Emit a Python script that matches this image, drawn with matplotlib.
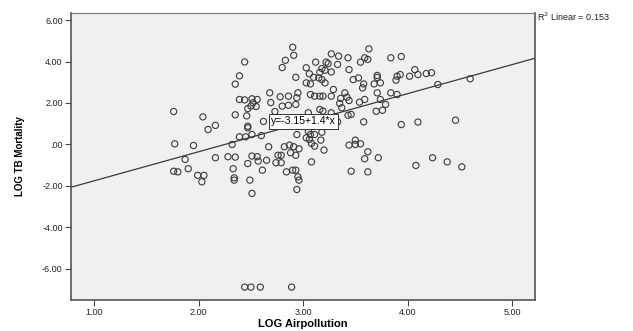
import numpy as np
import matplotlib
matplotlib.use("Agg")
import matplotlib.pyplot as plt

plt.rcParams["font.family"] = ["Liberation Sans", "DejaVu Sans"]

# LOG Airpollution values (x)
airpollution = [
    1.76, 2.04, 2.09, 2.16, 1.77, 1.95, 1.87, 1.76, 1.80, 1.90,
    1.99, 2.05, 2.03, 2.16, 2.28, 2.35, 2.32, 2.33, 2.34, 2.34,
    2.44, 2.39, 2.35, 2.39, 2.44, 2.51, 2.52, 2.50, 2.47, 2.35,
    2.46, 2.47, 2.47, 2.39, 2.45, 2.51, 2.51, 2.47, 2.49, 2.51,
    2.44, 2.50, 2.59, 2.89,
    2.90, 2.91, 2.83, 2.80, 2.93, 3.03, 3.06, 3.10, 3.12, 3.16,
    3.18, 3.21, 3.22, 3.24, 3.33, 3.27, 3.34, 3.15, 3.18, 3.21,
    3.03, 3.07, 3.27, 3.07, 3.11, 3.16, 3.19, 3.29, 3.27, 3.36,
    3.35, 3.37, 2.68, 2.78, 2.86, 2.94, 2.95, 2.69, 2.73, 2.80,
    2.86, 2.93, 2.56, 2.55, 3.05, 3.16, 3.19, 3.27, 3.33, 2.62,
    2.60, 2.94, 3.05, 3.07, 3.11, 3.18, 3.03, 3.06, 3.17, 3.08,
    3.11, 3.20, 2.67, 2.82, 2.87, 2.91, 2.96, 2.88, 2.93, 2.76,
    2.79, 2.74, 2.79, 2.56, 2.57, 2.65, 2.61, 2.84, 2.90, 2.93,
    2.95, 2.96, 3.08, 2.94,
    3.63, 3.43, 3.55, 3.59, 3.62, 3.84, 3.94, 3.44, 3.48, 3.53,
    3.58, 3.57, 3.71, 3.71, 3.68, 3.74, 3.90, 3.93, 3.89, 4.02,
    4.07, 4.10, 4.18, 4.23, 4.29, 4.60, 3.40, 3.42, 3.44, 3.59,
    3.54, 3.71, 3.84, 3.90, 3.74, 3.79, 3.70, 3.76, 3.43, 3.46,
    3.58, 3.94, 4.10, 4.46, 3.50, 3.44, 3.50, 3.55, 3.62, 3.59,
    3.72, 3.46, 3.62, 4.08, 4.24, 4.38, 4.52,
]

# LOG TB Mortality values (y)
tb_mortality = [
    1.59, 1.33, 0.72, 0.92, 0.03, -0.05, -0.72, -1.29, -1.32, -1.17,
    -1.49, -1.49, -1.80, -0.64, -0.59, -0.61, 0.00, -1.17, -1.61, -1.72,
    3.98, 3.31, 2.91, 2.17, 2.15, 2.20, 2.01, 1.85, 1.73, 1.43,
    1.38, 0.88, 0.80, 0.37, 0.37, 0.48, -0.56, -0.92, -1.72, -2.36,
    -6.88, -6.88, -6.88, -6.88,
    4.69, 4.30, 4.06, 3.71, 3.24, 3.70, 3.41, 3.24, 3.97, 3.48,
    3.66, 3.58, 3.97, 3.90, 3.86, 4.37, 4.26, 3.21, 3.13, 2.97,
    2.97, 2.92, 3.50, 2.41, 2.33, 2.33, 2.33, 2.65, 2.33, 2.22,
    1.98, 1.77, 2.49, 2.30, 2.33, 2.25, 2.49, 2.02, 1.59, 1.85,
    1.89, 1.93, 2.17, 1.83, 1.53, 1.69, 1.61, 1.53, 1.09, 1.11,
    0.43, 0.48, 0.64, 0.48, 0.48, 0.59, 0.32, 0.24, 0.21, 0.05,
    -0.08, -0.27, -0.11, -0.11, -0.03, -0.11, -0.21, -0.40, -0.52, -0.52,
    -0.52, -0.88, -0.88, -0.59, -0.80, -0.76, -1.24, -1.32, -1.24, -1.24,
    -1.56, -1.72, -0.84, -2.17,
    4.61, 4.18, 3.97, 4.18, 4.10, 4.18, 4.24, 3.61, 3.13, 3.21,
    2.92, 2.73, 3.33, 3.23, 2.92, 2.97, 3.29, 3.37, 3.10, 3.29,
    3.61, 3.37, 3.42, 3.46, 2.89, 3.17, 2.49, 2.28, 2.12, 2.17,
    2.04, 2.49, 2.49, 2.41, 2.17, 1.93, 1.60, 1.65, 1.41, 1.45,
    1.09, 0.96, 1.08, 1.17, 0.21, -0.03, 0.00, 0.03, -0.35, -0.69,
    -0.64, -1.29, -1.32, -1.01, -0.64, -0.84, -1.08,
]

intercept = -3.15
slope = 1.4
r2 = 0.153

x_ticks = [1.0, 2.0, 3.0, 4.0, 5.0]
y_ticks = [-6.0, -4.0, -2.0, 0.0, 2.0, 4.0, 6.0]


def fmt(v):
    s = "%.2f" % v
    if s.startswith("0."):
        s = s[1:]
    return s


fig = plt.figure(figsize=(6.33, 3.31), dpi=100)
ax = fig.add_axes([0.1122, 0.0937, 0.7328, 0.867])
ax.set_facecolor("#f0f0f0")

ax.scatter(airpollution, tb_mortality, s=20, facecolors="none",
           edgecolors="#3a3a3a", linewidths=0.8, zorder=3)

xlim = (0.777, 5.22)
ylim = (-7.5, 6.34)
xs = np.array(xlim)
ax.plot(xs, intercept + slope*xs, color="#3a3a3a", lw=0.9, zorder=2)

ax.set_xlim(*xlim)
ax.set_ylim(*ylim)
ax.set_xticks(x_ticks)
ax.set_yticks(y_ticks)
ax.set_xticklabels([fmt(v) for v in x_ticks])
ax.set_yticklabels([fmt(v) for v in y_ticks])
ax.tick_params(labelsize=6.5, length=4, width=0.8, colors="#444444",
               labelcolor="#222222", pad=2)

for side in ["left", "bottom", "right"]:
    ax.spines[side].set_color("#555555")
    ax.spines[side].set_linewidth(1.2)
ax.spines["top"].set_color("#777777")
ax.spines["top"].set_linewidth(0.8)

ax.set_xlabel("LOG Airpollution", fontsize=8, fontweight="bold", labelpad=1)
ax.set_ylabel("LOG TB Mortality", fontsize=7, fontweight="bold", labelpad=12)

# equation label on the fit line
x_lab = 3.0
ax.text(x_lab, intercept + slope*x_lab + 0.06, "y=-3.15+1.4*x", fontsize=7.5,
        ha="center", va="center", zorder=5,
        bbox=dict(boxstyle="square,pad=0.2", fc="white", ec="#333333", lw=0.7))

fig.text(0.848, 0.948, r"R$^2$ Linear = %.3f" % r2, fontsize=6.5,
         ha="left", va="center", color="#222222")

plt.savefig("out.png", dpi=100)
